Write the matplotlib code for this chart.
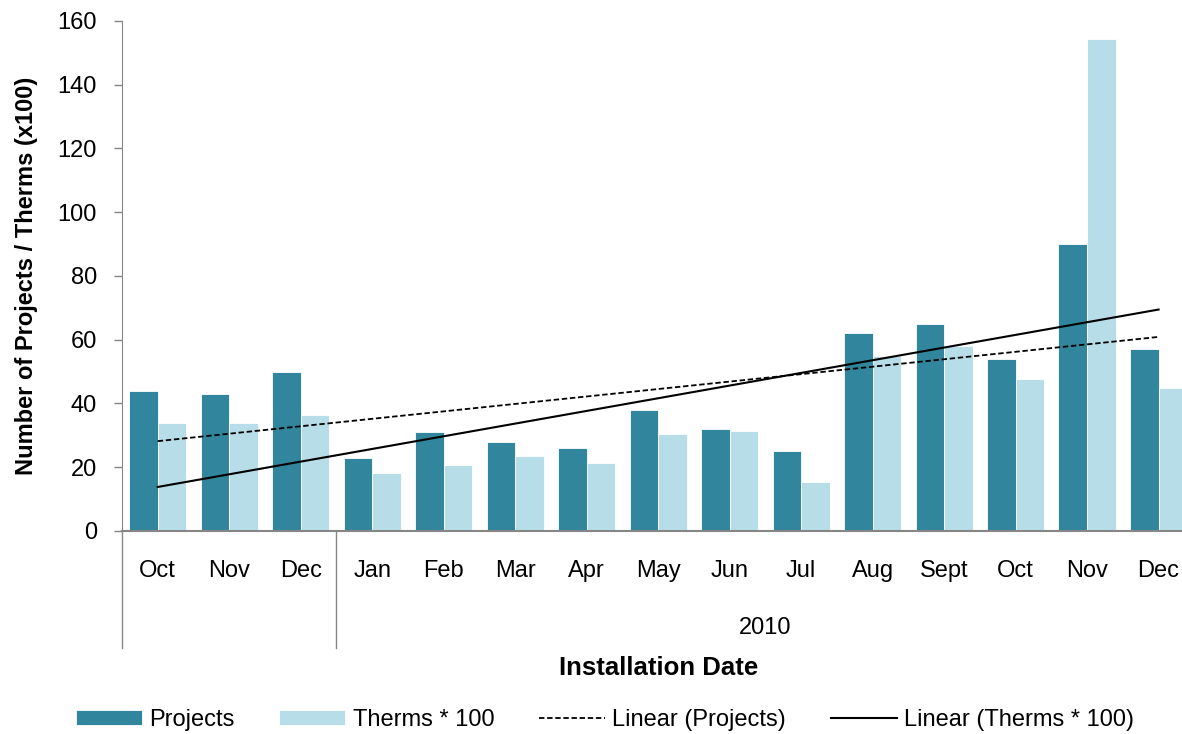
import numpy as np
import matplotlib.pyplot as plt
import matplotlib.transforms as mtransforms

plt.rcParams['font.family'] = ['Liberation Sans', 'DejaVu Sans']

# datos
meses = ['Oct', 'Nov', 'Dec', 'Jan', 'Feb', 'Mar', 'Apr', 'May', 'Jun', 'Jul',
         'Aug', 'Sept', 'Oct', 'Nov', 'Dec']
proyectos = [44, 43, 50, 23, 31, 28, 26, 38, 32, 25, 62, 65, 54, 90, 57]
therms = [33.8, 33.8, 36.4, 18.2, 20.6, 23.6, 21.2, 30.4, 31.4, 15.3, 55, 58, 47.7, 154.2, 45]
anio = '2010'
n_2009 = 3  # Oct, Nov, Dec del año anterior (sin etiqueta)

azul = '#31859C'
celeste = '#B7DEE8'
gris = '#868686'

x = np.arange(len(meses))

fig = plt.figure(figsize=(11.82, 7.34), dpi=100)
ax = fig.add_axes([122/1182, 0.2766, 1 - 122/1182, 0.9714 - 0.2766])

b1 = ax.bar(x - 0.2, proyectos, 0.4, color=azul, edgecolor='white', linewidth=0.6, label='Projects')
b2 = ax.bar(x + 0.2, therms, 0.4, color=celeste, edgecolor='white', linewidth=0.6, label='Therms * 100')

# lineas de tendencia lineales
c1 = np.polyfit(x, proyectos, 1)
c2 = np.polyfit(x, therms, 1)
l1, = ax.plot(x, np.polyval(c1, x), color='black', linestyle=(0, (3, 1.5)), linewidth=1.3,
              label='Linear (Projects)')
l2, = ax.plot(x, np.polyval(c2, x), color='black', linestyle='-', linewidth=1.5,
              label='Linear (Therms * 100)')

ax.set_ylim(0, 160)
ax.set_yticks(range(0, 161, 20))
ax.set_xlim(-0.5, (1182 - 159) / 71.4)

for s in ['top', 'right']:
    ax.spines[s].set_visible(False)
ax.spines['left'].set_color(gris)
ax.spines['bottom'].set_color(gris)
ax.spines['bottom'].set_linewidth(1.5)
ax.tick_params(axis='y', colors=gris, labelcolor='black', labelsize=17, length=6, width=1, pad=12)
ax.set_xticks([])

# etiquetas de meses y separadores
trans = mtransforms.blended_transform_factory(ax.transData, ax.transAxes)
for i, m in enumerate(meses):
    ax.text(i, -0.078, m, transform=trans, ha='center', va='center', fontsize=17)
ax.text((n_2009 - 0.5 + len(meses) - 0.5) / 2, -0.19, anio, transform=trans,
        ha='center', va='center', fontsize=17)
for xs in [-0.5, n_2009 - 0.5]:
    ax.plot([xs, xs], [0, -0.229], transform=trans, color=gris, linewidth=1, clip_on=False)

ax.set_ylabel('Number of Projects / Therms (x100)', fontsize=17, fontweight='bold', labelpad=14)
fig.text(659/1182, 1 - 668/734, 'Installation Date', ha='center', va='center',
         fontsize=18.5, fontweight='bold')

fig.legend(handles=[b1, b2, l1, l2], loc='center', bbox_to_anchor=(605/1182, 1 - 720/734),
           ncol=4, frameon=False, fontsize=17, handlelength=2.8, handleheight=0.6,
           columnspacing=1.9, handletextpad=0.3)

fig.savefig('out.png', dpi=100)
